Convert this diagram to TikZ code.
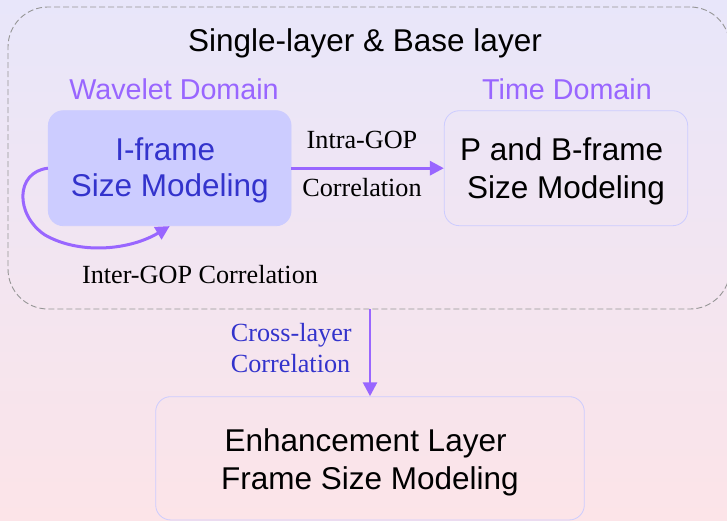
\documentclass[tikz,border=0pt]{standalone}
\usepackage{fontspec}
\setmainfont{Liberation Serif}
\newfontfamily\sansfont{Liberation Sans}
\usetikzlibrary{arrows.meta}

\definecolor{bgtop}{RGB}{232,230,250}
\definecolor{bgbottom}{RGB}{252,228,232}
\definecolor{accent}{RGB}{153,102,255}
\definecolor{deepblue}{RGB}{51,51,204}
\definecolor{boxfill}{RGB}{204,204,255}
\definecolor{boxline}{RGB}{204,204,255}
\definecolor{dashgray}{RGB}{150,150,150}

\tikzset{
  x=1pt, y=-1pt,
  modelbox/.style={rectangle, rounded corners=15pt, draw=boxline, line width=0.8pt,
    minimum width=#1, minimum height=115pt, inner sep=0pt},
  boxtext/.style={align=center, inner sep=0pt, font=\sansfont\fontsize{31.5}{37}\selectfont},
  domainlabel/.style={anchor=base, inner sep=0pt, text=accent, font=\sansfont\fontsize{28.7}{34}\selectfont},
  corr/.style={inner sep=0pt, font=\fontsize{26.2}{31}\selectfont},
  flow/.style={draw=accent, line width=3pt, -{Triangle[length=14pt,width=14pt]}},
}

\begin{document}
\begin{tikzpicture}
  % page and background wash
  \useasboundingbox (0,0) rectangle (727,521);
  \shade[top color=bgtop, bottom color=bgbottom] (0,0) rectangle (727,521);

  % base-layer group
  \node (basebox) at (369,158) [rectangle, rounded corners=40pt, draw=dashgray,
    line width=0.9pt, dash pattern=on 6pt off 3pt,
    minimum width=722pt, minimum height=302pt, inner sep=0pt] {};
  \node (title) at (365,51.7) [anchor=base, inner sep=0pt,
    font=\sansfont\fontsize{31.5}{37}\selectfont] {Single-layer \& Base layer};

  % domain headings
  \node (wavelet) at (174,100) [domainlabel] {Wavelet Domain};
  \node (time) at (567,100) [domainlabel] {Time Domain};

  % modelling boxes
  \node (ibox) at (169.7,168.2) [modelbox=242.7pt, fill=boxfill] {};
  \node (ibox-text) at (169.7,170.8) [boxtext, text=deepblue,
    font=\sansfont\fontsize{31.5}{36}\selectfont]
    {I-frame\hspace*{0.278em}\\Size Modeling};

  \node (pbox) at (566,168.2) [modelbox=243.4pt] {};
  \node (pbox-text) at (566,171.8) [boxtext,
    font=\sansfont\fontsize{31.5}{38}\selectfont]
    {P and B-frame\hspace*{0.278em}\\Size Modeling};

  \node (ebox) at (370,458.3) [modelbox=428.6pt, minimum height=123.3pt] {};
  \node (ebox-text) at (370,462.7) [boxtext,
    font=\sansfont\fontsize{31.5}{38.3}\selectfont]
    {Enhancement Layer\hspace*{0.278em}\\Frame Size Modeling};

  % intra-GOP link
  \draw[flow] (ibox.east) -- (pbox.west);
  \node (intra) at (362,149) [corr, anchor=base] {Intra-GOP};
  \node (intra2) at (362,196.7) [corr, anchor=base] {Correlation};

  % inter-GOP loop back onto the I-frame box
  \draw[flow] (ibox.west) .. controls (15,172) and (15,215) .. (45,235)
    .. controls (80,255) and (130,250) .. (ibox.south);
  \node (inter) at (200,283) [corr, anchor=base] {Inter-GOP Correlation};

  % cross-layer link down to the enhancement layer
  \draw[flow, line width=2.8pt] (ebox.north |- basebox.south) -- (ebox.north);
  \node (cross) at (230.7,341.7) [corr, anchor=base west, text=deepblue] {Cross-layer};
  \node (cross2) at (230.7,372.7) [corr, anchor=base west, text=deepblue] {Correlation};
\end{tikzpicture}
\end{document}
